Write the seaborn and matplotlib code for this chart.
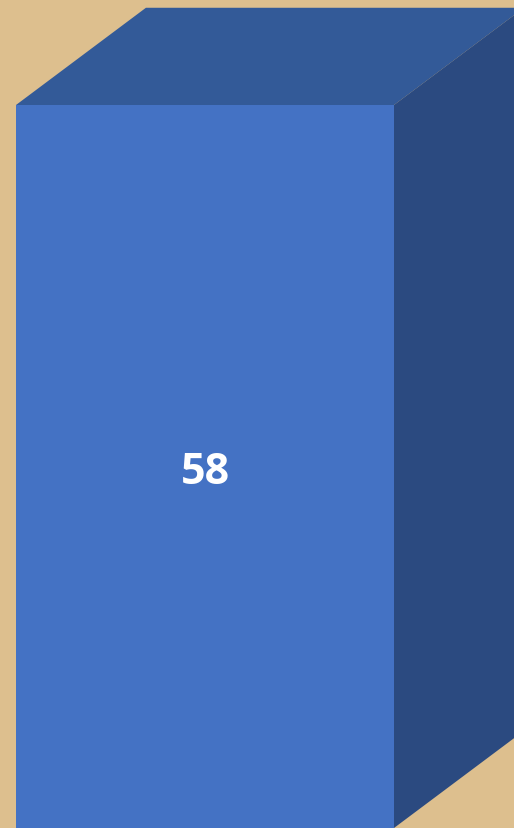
import matplotlib
matplotlib.use('Agg')
import matplotlib.pyplot as plt
from matplotlib.patches import Polygon
import pandas as pd
import seaborn as sns

# data
categories = ['A']
values = [58]

FRONT = '#4472C4'
TOP = '#335A98'
SIDE = '#2B4A80'
BG = '#DDBF8E'

sns.set_style('white')
plt.rcParams['font.family'] = ['Open Sans', 'DejaVu Sans']

df = pd.DataFrame({'cat': categories, 'val': values})

fig = plt.figure(figsize=(5.14, 8.29), dpi=100)
fig.patch.set_facecolor(BG)
ax = fig.add_axes([0, 0, 1, 1])
ax.set_facecolor(BG)

sns.barplot(data=df, x='cat', y='val', color=FRONT, saturation=1,
            width=0.8, ax=ax, zorder=3)

# depth of the fake 3d box (data units)
dx, dy = 0.275, 7.8
for bar in ax.patches[:]:
    bar.set_edgecolor('none')
    x0 = bar.get_x()
    x1 = x0 + bar.get_width()
    h = bar.get_height()
    top = Polygon([(x0, h), (x0 + dx, h + dy), (x1 + dx, h + dy), (x1, h)],
                  closed=True, facecolor=TOP, edgecolor='none', zorder=2)
    side = Polygon([(x1, 0), (x1, h), (x1 + dx, h + dy), (x1 + dx, dy)],
                   closed=True, facecolor=SIDE, edgecolor='none', zorder=2)
    ax.add_patch(top)
    ax.add_patch(side)
    ax.text(x0 + bar.get_width() / 2, h / 2, f'{h:.0f}', color='white',
            fontsize=31, fontweight='bold', ha='center', va='center_baseline',
            zorder=4)

# place the front face: 378 px wide from x=16, top at y=106
px = 0.8 / 378
left = -0.4 - 16 * px
ax.set_xlim(left, left + 514 * px)
ax.set_ylim(0, 58 + 106 * 58 / 723)
ax.axis('off')

fig.savefig('out.png', dpi=100, facecolor=BG)
